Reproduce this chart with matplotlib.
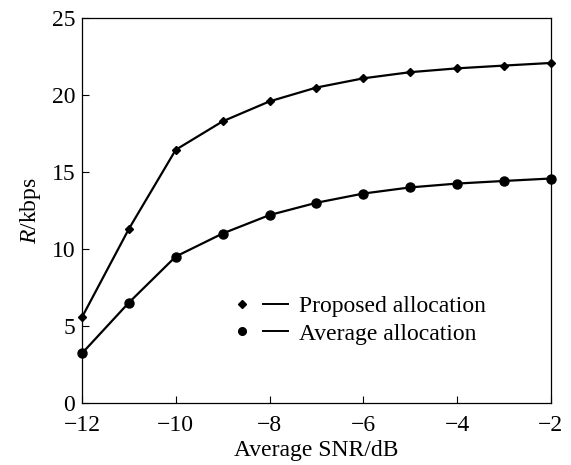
import matplotlib
matplotlib.use('Agg')
import matplotlib.pyplot as plt
from matplotlib.lines import Line2D
from matplotlib.legend_handler import HandlerTuple

plt.rcParams['font.family'] = ['Liberation Serif', 'DejaVu Serif']
plt.rcParams['mathtext.fontset'] = 'custom'
plt.rcParams['mathtext.rm'] = 'Liberation Serif'
plt.rcParams['mathtext.it'] = 'Liberation Serif:italic'

# SNR moyen (dB)
snr = [-12, -11, -10, -9, -8, -7, -6, -5, -4, -3, -2]
# debit (kbps)
proposed = [5.55, 11.3, 16.45, 18.3, 19.6, 20.5, 21.1, 21.5, 21.75, 21.93, 22.1]
average = [3.2, 6.5, 9.5, 11.0, 12.2, 13.0, 13.6, 14.0, 14.25, 14.42, 14.58]

xticks = [-12, -10, -8, -6, -4, -2]
yticks = [0, 5, 10, 15, 20, 25]

fs = 17

fig = plt.figure(figsize=(5.71, 4.65), dpi=100)
ax = fig.add_axes([0.1436, 0.1344, 0.821, 0.826])

ax.plot(snr, proposed, color='black', lw=1.6, marker='D', ms=4.5, clip_on=False)
ax.plot(snr, average, color='black', lw=1.6, marker='o', ms=6.5, clip_on=False)

ax.set_xlim(-12, -2)
ax.set_ylim(0, 25)
ax.set_xticks(xticks)
ax.set_yticks(yticks)
ax.set_xticklabels([str(t).replace('-', '\u2212') for t in xticks])
ax.tick_params(direction='in', length=5, width=0.8, labelsize=fs)
ax.tick_params(axis='x', pad=9)
ax.tick_params(axis='y', pad=5)
for s in ax.spines.values():
    s.set_linewidth(0.9)

ax.set_xlabel('Average SNR/dB', fontsize=fs, labelpad=3)
ax.set_ylabel('$R$/kbps', fontsize=fs, labelpad=6)

# legende : marqueur puis trait court
h1 = (Line2D([], [], color='black', marker='D', ms=3.8, ls='none'),
      Line2D([], [], color='black', lw=1.4))
h2 = (Line2D([], [], color='black', marker='o', ms=5.5, ls='none'),
      Line2D([], [], color='black', lw=1.4))
ax.legend([h1, h2], ['Proposed allocation', 'Average allocation'],
          handler_map={tuple: HandlerTuple(ndivide=None, pad=0.34)},
          loc='upper left', bbox_to_anchor=(0.3156, 0.279), frameon=False,
          fontsize=fs, handlelength=2.46, handletextpad=0.47, labelspacing=0.26,
          borderpad=0, borderaxespad=0)

plt.savefig('out.png', dpi=100)
